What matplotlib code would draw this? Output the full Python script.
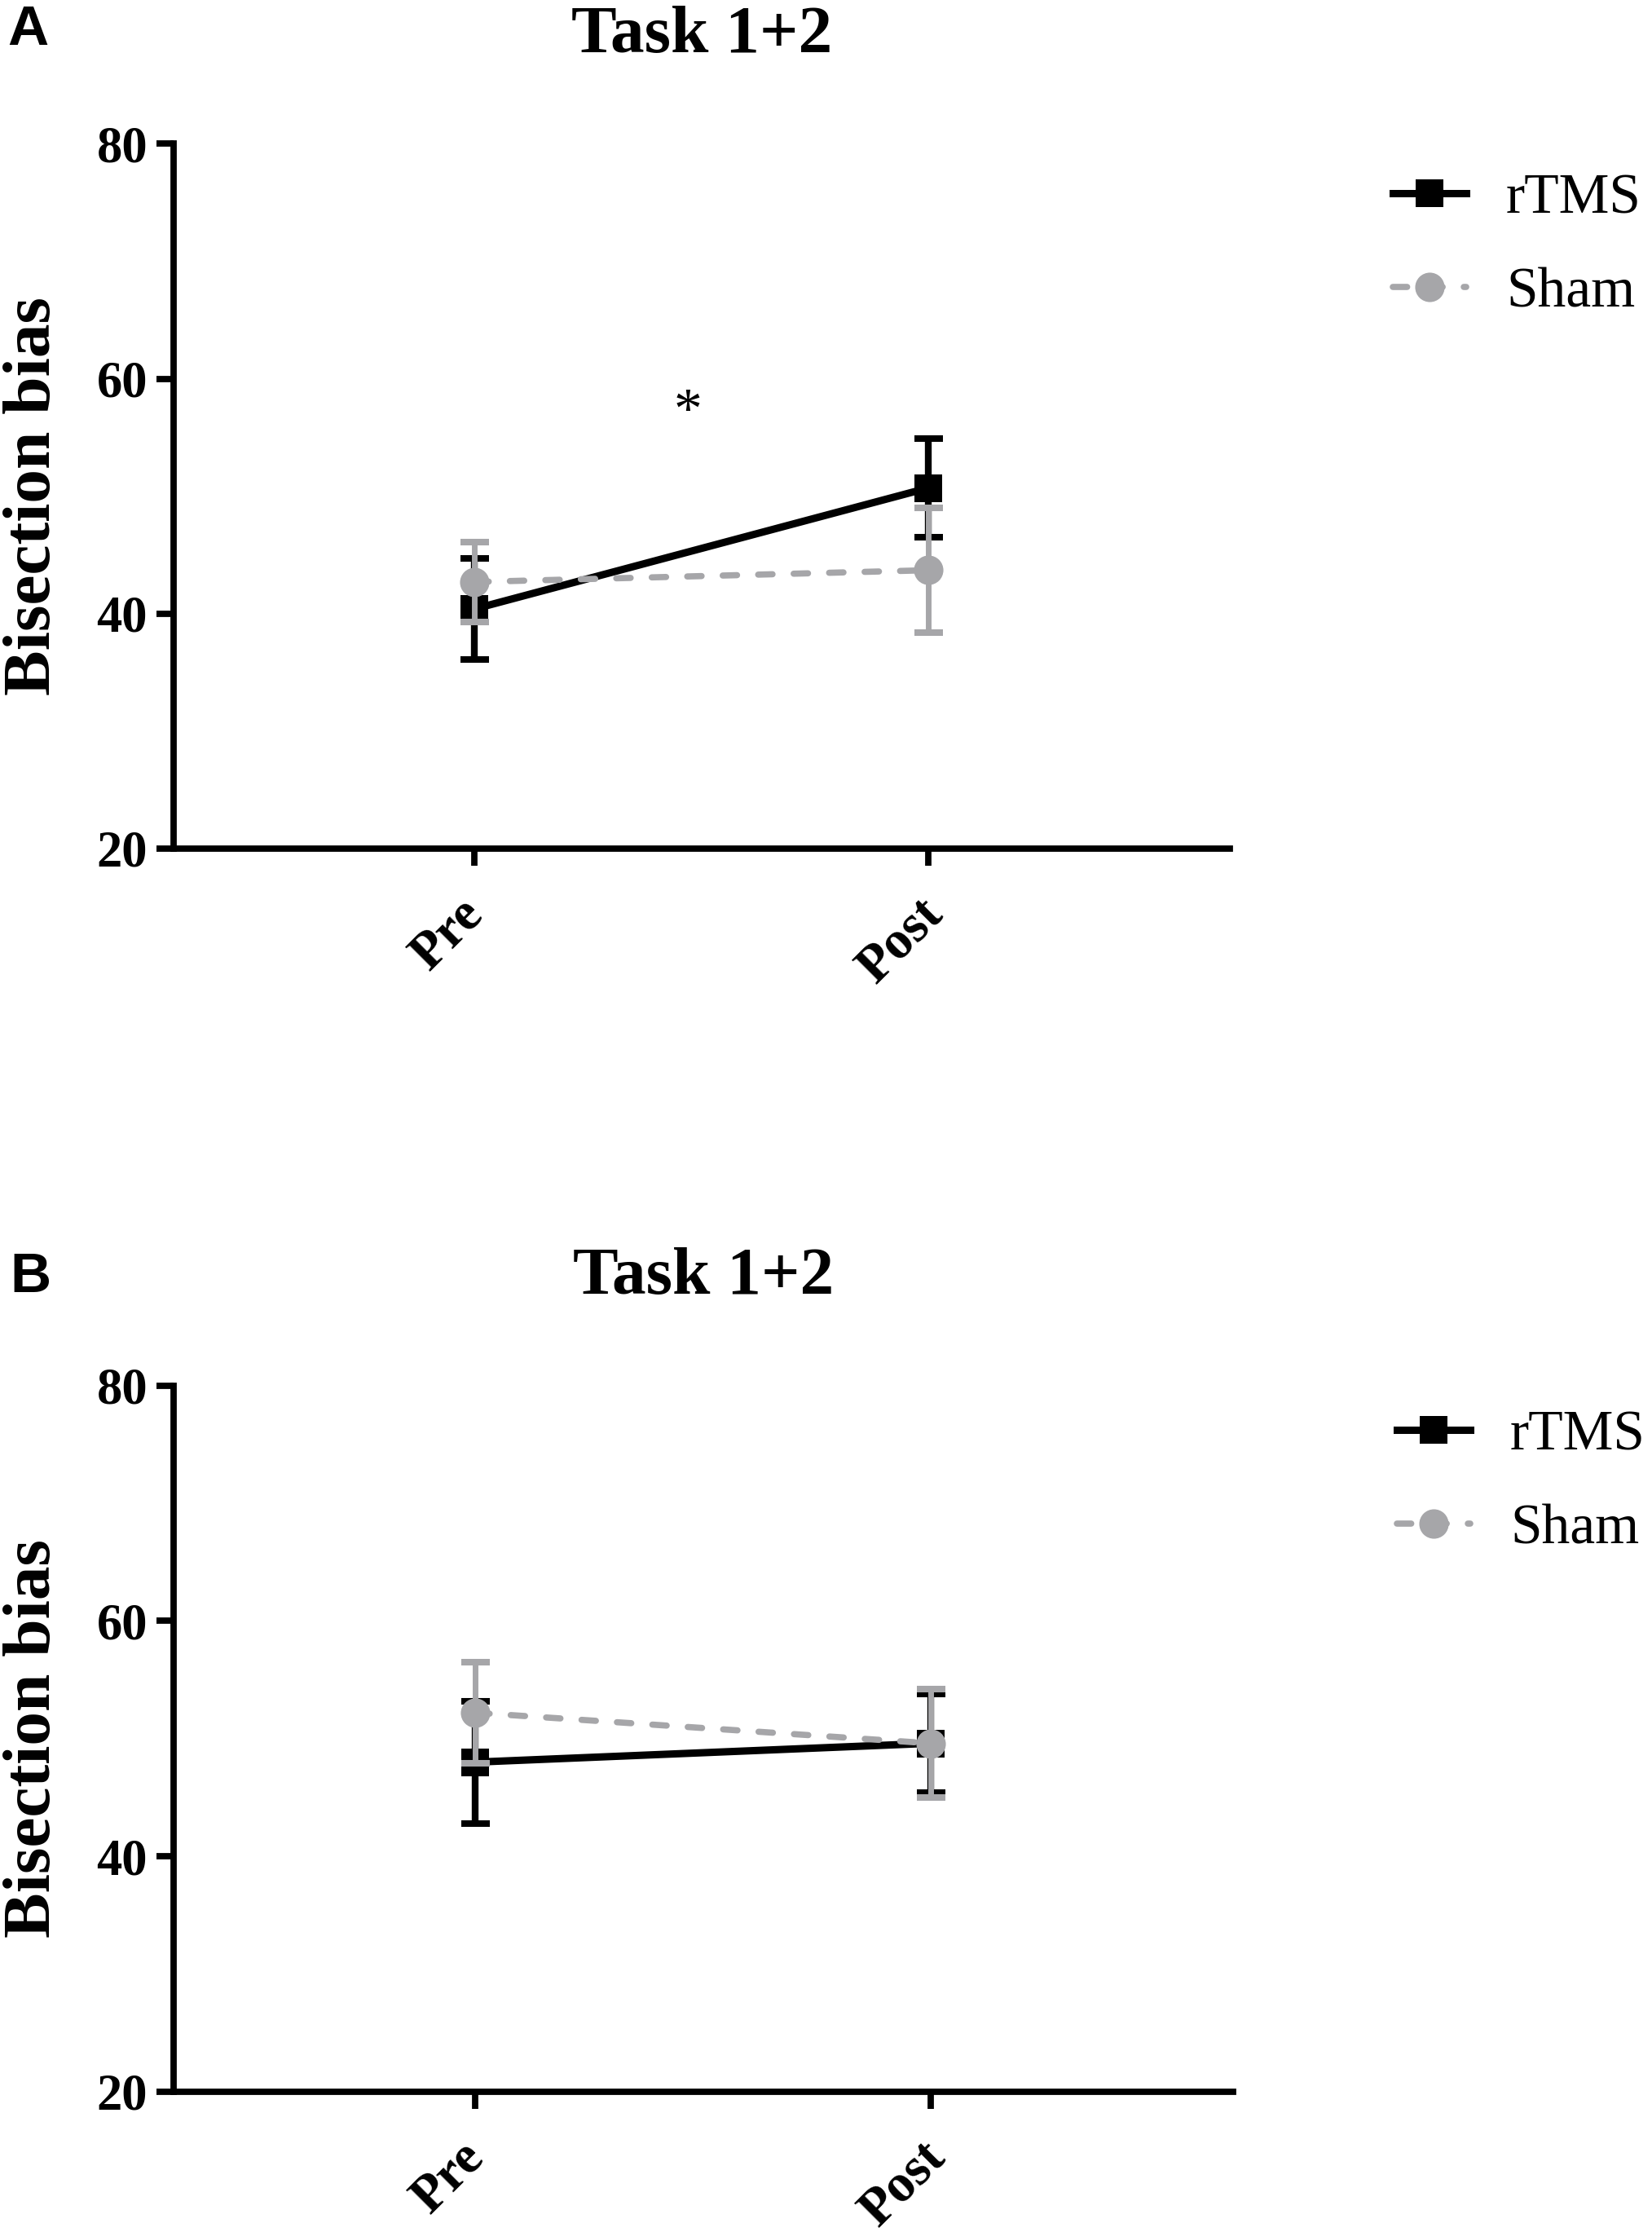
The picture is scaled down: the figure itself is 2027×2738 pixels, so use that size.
import matplotlib
matplotlib.use("Agg")
import matplotlib.pyplot as plt
import matplotlib.transforms as mtransforms

# data (mean +/- SEM)
conds = ["Pre", "Post"]
a_rtms = [40.4, 50.7]
a_rtms_err = [4.3, 4.2]
a_sham = [42.7, 43.7]
a_sham_err = [3.4, 5.3]
b_rtms = [48.0, 49.6]
b_rtms_err = [5.2, 4.2]
b_sham = [52.2, 49.6]
b_sham_err = [4.3, 4.6]
yticks = [20, 40, 60, 80]

W, H = 2027, 2738
serif = "Liberation Serif"
black = "#000000"
gray = "#a6a6a9"

fig = plt.figure(figsize=(W / 100, H / 100), dpi=100)


def px_axes(l, t, r, b):
    return fig.add_axes([l / W, 1 - b / H, (r - l) / W, (b - t) / H])


def panel(ax, rtms, rtms_err, sham, sham_err, leg_xy):
    x = list(range(len(conds)))
    # rTMS
    ax.errorbar(x, rtms, yerr=rtms_err, fmt="none", ecolor=black, elinewidth=6,
                capsize=12.6, capthick=5.8, zorder=2)
    ax.plot(x, rtms, color=black, lw=6.5, marker="s", ms=25, mec=black, mew=0,
            label="rTMS", zorder=3)
    # Sham
    ax.errorbar(x, sham, yerr=sham_err, fmt="none", ecolor=gray, elinewidth=5,
                capsize=12.6, capthick=5.8, zorder=4)
    ax.plot(x, sham, color=gray, lw=5.5, marker="o", ms=26, mec=gray, mew=0,
            dashes=(2.3, 3.4), dash_capstyle="round", label="Sham", zorder=5)

    ax.set_xlim(-0.663, 1.665)
    ax.set_ylim(20, 80)
    ax.set_yticks(yticks)
    ax.set_xticks(x)
    ax.set_xticklabels(conds)
    for s in ["top", "right"]:
        ax.spines[s].set_visible(False)
    for s in ["left", "bottom"]:
        ax.spines[s].set_linewidth(5.6)
    ax.tick_params(width=5.6, length=15, direction="out")
    ax.tick_params(axis="y", pad=8)
    ax.tick_params(axis="x", pad=21)
    for lab in ax.get_yticklabels():
        lab.set_fontfamily(serif)
        lab.set_fontweight("bold")
        lab.set_fontsize(45)
    off = mtransforms.ScaledTranslation(-33 / 100, 0, fig.dpi_scale_trans)
    for lab in ax.get_xticklabels():
        lab.set_fontfamily(serif)
        lab.set_fontweight("bold")
        lab.set_fontsize(47)
        lab.set_rotation(45)
        lab.set_ha("center")
        lab.set_va("top")
        lab.set_transform(lab.get_transform() + off)

    ax.set_ylabel("Bisection bias", fontfamily=serif, fontweight="bold",
                  fontsize=60, va="center")
    ax.yaxis.set_label_coords(-0.132, 0.5)
    ax.set_title("Task 1+2", fontfamily=serif, fontweight="bold", fontsize=60,
                 pad=81)

    ax.legend(loc="upper left", bbox_to_anchor=leg_xy,
              bbox_transform=fig.transFigure, frameon=False,
              prop={"family": serif, "size": 50}, handlelength=1.3,
              handletextpad=0.7, labelspacing=0.74, borderpad=0,
              borderaxespad=0, numpoints=1)


axA = px_axes(213, 176.4, 1509, 1041)
panel(axA, a_rtms, a_rtms_err, a_sham, a_sham_err, (1709 / W, 1 - 213 / H))
axA.text(0.47, 55.9, "*", fontfamily=serif, fontsize=50, ha="center",
         va="baseline")

axB = px_axes(213, 1699.5, 1513, 2566)
panel(axB, b_rtms, b_rtms_err, b_sham, b_sham_err, (1714 / W, 1 - 1730 / H))

fig.text(9 / W, 1 - 5 / H, "A", fontfamily="Liberation Sans",
         fontweight="bold", fontsize=50, ha="left", va="top")
fig.text(12 / W, 1 - 1535 / H, "B", fontfamily="Liberation Sans",
         fontweight="bold", fontsize=50, ha="left", va="top")

fig.savefig("out.png", dpi=100)
